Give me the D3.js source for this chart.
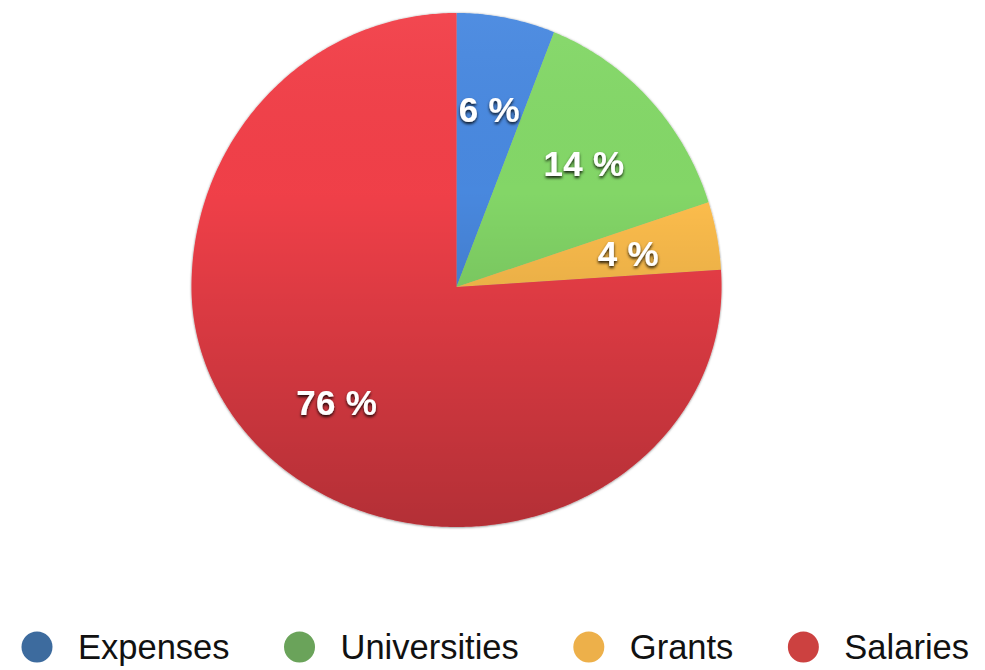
<!DOCTYPE html>
<html>
<head>
<meta charset="utf-8">
<script src="https://cdn.jsdelivr.net/npm/d3@7"></script>
<style>
  body { margin: 0; background: #fff; }
  svg { display: block; }
</style>
</head>
<body>
<svg id="chart" width="985" height="670"></svg>
<script>
// chart data
var categories = ["Expenses", "Universities", "Grants", "Salaries"];
var shares = [6, 14, 4, 76];
var sliceColors = ["#4889e0", "#84d868", "#ffbf4e", "#f2404a"];
var legendColors = ["#3d6b9e", "#6aa35a", "#edb04a", "#cc4140"];

var width = 985, height = 670;
var cx = 456.5, cy = 287, rx = 265, ryTop = 274, ryBot = 240;

var svg = d3.select("#chart");
var defs = svg.append("defs");

// soft edge around the pie
var shadow = defs.append("filter").attr("id", "edge")
    .attr("x", "-10%").attr("y", "-10%").attr("width", "120%").attr("height", "120%");
shadow.append("feDropShadow").attr("dx", 0).attr("dy", 0.5)
    .attr("stdDeviation", 1.2).attr("flood-color", "#000").attr("flood-opacity", 0.5);

var txtShadow = defs.append("filter").attr("id", "txtshadow")
    .attr("x", "-20%").attr("y", "-30%").attr("width", "140%").attr("height", "160%");
txtShadow.append("feDropShadow").attr("dx", 0).attr("dy", 2)
    .attr("stdDeviation", 1.6).attr("flood-color", "#000").attr("flood-opacity", 0.85);

var shade = defs.append("linearGradient").attr("id", "shade")
    .attr("gradientUnits", "userSpaceOnUse")
    .attr("x1", 0).attr("y1", cy - ryTop).attr("x2", 0).attr("y2", cy + ryBot);
shade.append("stop").attr("offset", "0%").attr("stop-color", "#fff").attr("stop-opacity", 0.04);
shade.append("stop").attr("offset", "35%").attr("stop-color", "#000").attr("stop-opacity", 0.01);
shade.append("stop").attr("offset", "100%").attr("stop-color", "#000").attr("stop-opacity", 0.26);

// point on the (slightly tilted) pie outline, a = angle clockwise from top
function pt(a, r) {
    var ry = Math.cos(a) > 0 ? ryTop : ryBot;
    return [cx + r * rx * Math.sin(a), cy - r * ry * Math.cos(a)];
}

function slicePath(d) {
    var pts = [[cx, cy]];
    var n = Math.max(8, Math.ceil((d.endAngle - d.startAngle) / 0.01));
    for (var i = 0; i <= n; i++) {
        pts.push(pt(d.startAngle + (d.endAngle - d.startAngle) * i / n, 1));
    }
    return d3.line()(pts) + "Z";
}

var pie = d3.pie().sort(null).value(function(d) { return d; });
var arcs = pie(shares);

var g = svg.append("g").attr("filter", "url(#edge)");

g.selectAll("path.slice")
    .data(arcs)
    .join("path")
    .attr("class", "slice")
    .attr("d", slicePath)
    .attr("fill", function(d, i) { return sliceColors[i]; });

// shading overlay
svg.append("path")
    .attr("d", slicePath({ startAngle: 0, endAngle: 2 * Math.PI }))
    .attr("fill", "url(#shade)");

// percentage labels
svg.selectAll("text.pct")
    .data(arcs)
    .join("text")
    .attr("class", "pct")
    .attr("x", function(d) { return pt((d.startAngle + d.endAngle) / 2, 0.66)[0]; })
    .attr("y", function(d) { return pt((d.startAngle + d.endAngle) / 2, 0.66)[1]; })
    .attr("dy", "0.36em")
    .attr("text-anchor", "middle")
    .attr("font-family", "Liberation Sans, Arial, sans-serif")
    .attr("font-weight", "bold")
    .attr("font-size", 35)
    .attr("letter-spacing", 0.3)
    .attr("fill", "#fff")
    .attr("filter", "url(#txtshadow)")
    .text(function(d) { return d.data + " %"; });

// legend
var legend = svg.append("g");
var items = legend.selectAll("g.item")
    .data(categories)
    .join("g")
    .attr("class", "item");

items.append("circle")
    .attr("r", 15.5)
    .attr("cy", 647)
    .attr("fill", function(d, i) { return legendColors[i]; });

items.append("text")
    .attr("y", 659)
    .attr("font-family", "Liberation Sans, Arial, sans-serif")
    .attr("font-size", 34.5)
    .attr("fill", "#111")
    .text(function(d) { return d; });

var x = 37;
items.each(function() {
    var item = d3.select(this);
    var w = item.select("text").node().getComputedTextLength();
    item.select("circle").attr("cx", x);
    item.select("text").attr("x", x + 41);
    x += 41 + w + 70;
});
</script>
</body>
</html>
